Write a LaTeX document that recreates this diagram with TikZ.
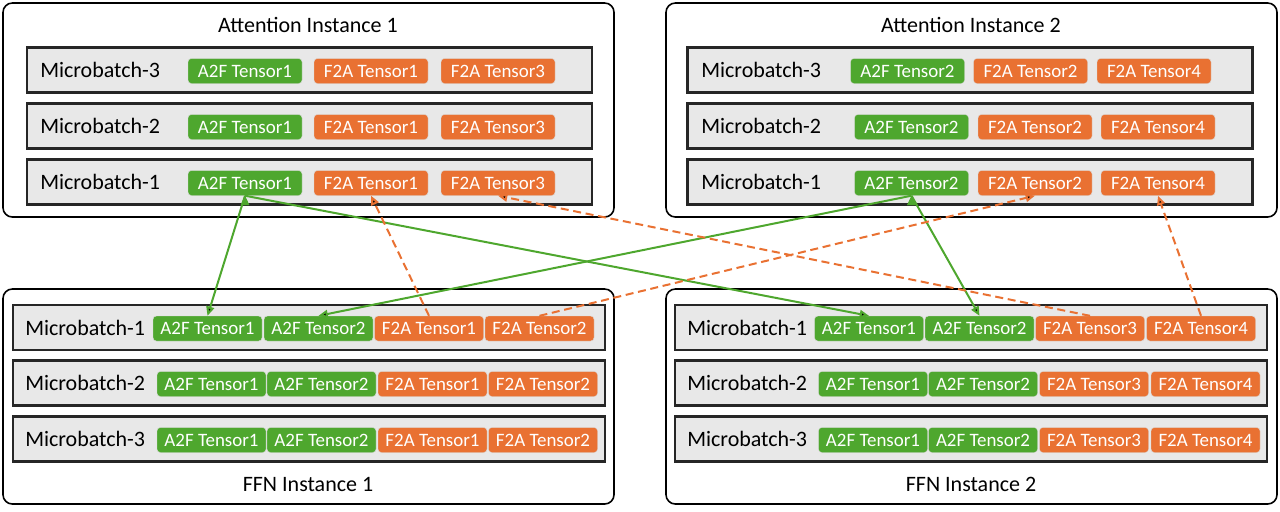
\documentclass[tikz,border=0pt]{standalone}
\usepackage{fontspec}
\setmainfont{Carlito}
\usepackage{tikz}
\usetikzlibrary{arrows.meta}
\definecolor{tgreen}{HTML}{4EA72E}
\definecolor{torange}{HTML}{E97132}
\definecolor{rowgray}{HTML}{E8E8E8}
\tikzset{
  instbox/.style={draw, line width=1.2pt, rounded corners=7pt, inner sep=0pt},
  attrow/.style={draw=black!85, line width=1.6pt, fill=rowgray, minimum width=423.75pt, minimum height=33.75pt, inner sep=0pt},
  ffnrow/.style={attrow, minimum width=444pt},
  tensor/.style={rounded corners=2.5pt, draw=white!85!black, line width=0.3pt, text=white, inner sep=0pt, minimum height=18.75pt, font=\fontsize{14.2}{16}\selectfont},
  a2f/.style={tensor, fill=tgreen},
  f2a/.style={tensor, fill=torange},
  mblabel/.style={anchor=west, inner sep=0pt, font=\fontsize{16.5}{19}\selectfont},
  title/.style={inner sep=0pt, font=\fontsize{16.5}{19}\selectfont}
}

\begin{document}
\begin{tikzpicture}[x=0.75pt, y=-0.75pt]
\useasboundingbox (0,0) rectangle (1280,511);

\begin{scope}[every node/.style={instbox, minimum width=458.25pt}]
  \node[minimum height=160.5pt] (att1) at (308.5,110) {};
  \node[minimum height=160.5pt] (att2) at (971.5,110) {};
  \node[minimum height=161.25pt] (ffn1) at (308.5,396.5) {};
  \node[minimum height=161.25pt] (ffn2) at (971.5,396.5) {};
\end{scope}

\node[title] (att1t) at (308,25) {Attention Instance 1};
\node[title] (att2t) at (971,25) {Attention Instance 2};
\node[title] (ffn1t) at (308,484) {FFN Instance 1};
\node[title] (ffn2t) at (971,484) {FFN Instance 2};

\node[attrow] (att1r3) at (309.5,70) {};
\node[attrow] (att1r2) at (309.5,126) {};
\node[attrow] (att1r1) at (309.5,182) {};
\node[attrow] (att2r3) at (970,70) {};
\node[attrow] (att2r2) at (970,126) {};
\node[attrow] (att2r1) at (970,182) {};
\node[ffnrow] (ffn1r1) at (309,327.5) {};
\node[ffnrow] (ffn1r2) at (309,383) {};
\node[ffnrow] (ffn1r3) at (309,439) {};
\node[ffnrow] (ffn2r1) at (971,327.5) {};
\node[ffnrow] (ffn2r2) at (971,383) {};
\node[ffnrow] (ffn2r3) at (971,439) {};

\node[mblabel] (att1l3) at (40,70) {Microbatch-3};
\node[mblabel] (att1l2) at (40,126) {Microbatch-2};
\node[mblabel] (att1l1) at (40,182) {Microbatch-1};
\node[mblabel] (att2l3) at (701,70) {Microbatch-3};
\node[mblabel] (att2l2) at (701,126) {Microbatch-2};
\node[mblabel] (att2l1) at (701,182) {Microbatch-1};
\node[mblabel] (ffn1l1) at (25,327.5) {Microbatch-1};
\node[mblabel] (ffn1l2) at (25,383) {Microbatch-2};
\node[mblabel] (ffn1l3) at (25,439) {Microbatch-3};
\node[mblabel] (ffn2l1) at (687,327.5) {Microbatch-1};
\node[mblabel] (ffn2l2) at (687,383) {Microbatch-2};
\node[mblabel] (ffn2l3) at (687,439) {Microbatch-3};

\begin{scope}[every node/.append style={minimum width=85.5pt}]
  \node[a2f] (att1r3a) at (245,71) {A2F Tensor1};
  \node[f2a] (att1r3b) at (371,71) {F2A Tensor1};
  \node[f2a] (att1r3c) at (498,71) {F2A Tensor3};
  \node[a2f] (att1r2a) at (245,127) {A2F Tensor1};
  \node[f2a] (att1r2b) at (371,127) {F2A Tensor1};
  \node[f2a] (att1r2c) at (498,127) {F2A Tensor3};
  \node[a2f] (att1r1a) at (245,183) {A2F Tensor1};
  \node[f2a] (att1r1b) at (371,183) {F2A Tensor1};
  \node[f2a] (att1r1c) at (498,183) {F2A Tensor3};
  \node[a2f] (att2r3a) at (907.5,71) {A2F Tensor2};
  \node[f2a] (att2r3b) at (1030.5,71) {F2A Tensor2};
  \node[f2a] (att2r3c) at (1154,71) {F2A Tensor4};
  \node[a2f] (att2r2a) at (911.5,127) {A2F Tensor2};
  \node[f2a] (att2r2b) at (1035,127) {F2A Tensor2};
  \node[f2a] (att2r2c) at (1158,127) {F2A Tensor4};
  \node[a2f] (att2r1a) at (911.5,183) {A2F Tensor2};
  \node[f2a] (att2r1b) at (1035,183) {F2A Tensor2};
  \node[f2a] (att2r1c) at (1158,183) {F2A Tensor4};
\end{scope}

\begin{scope}[every node/.append style={minimum width=81.75pt}]
  \node[a2f] (ffn1r1a) at (207.5,328.5) {A2F Tensor1};
  \node[a2f] (ffn1r1b) at (318.5,328.5) {A2F Tensor2};
  \node[f2a] (ffn1r1c) at (429,328.5) {F2A Tensor1};
  \node[f2a] (ffn1r1d) at (539.5,328.5) {F2A Tensor2};
  \node[a2f] (ffn1r2a) at (211.5,384) {A2F Tensor1};
  \node[a2f] (ffn1r2b) at (321.5,384) {A2F Tensor2};
  \node[f2a] (ffn1r2c) at (432.5,384) {F2A Tensor1};
  \node[f2a] (ffn1r2d) at (543,384) {F2A Tensor2};
  \node[a2f] (ffn1r3a) at (211.5,440) {A2F Tensor1};
  \node[a2f] (ffn1r3b) at (321.5,440) {A2F Tensor2};
  \node[f2a] (ffn1r3c) at (432.5,440) {F2A Tensor1};
  \node[f2a] (ffn1r3d) at (543,440) {F2A Tensor2};
  \node[a2f] (ffn2r1a) at (869,328.5) {A2F Tensor1};
  \node[a2f] (ffn2r1b) at (979.5,328.5) {A2F Tensor2};
  \node[f2a] (ffn2r1c) at (1090,328.5) {F2A Tensor3};
  \node[f2a] (ffn2r1d) at (1201,328.5) {F2A Tensor4};
  \node[a2f] (ffn2r2a) at (873,384) {A2F Tensor1};
  \node[a2f] (ffn2r2b) at (983,384) {A2F Tensor2};
  \node[f2a] (ffn2r2c) at (1094,384) {F2A Tensor3};
  \node[f2a] (ffn2r2d) at (1205.5,384) {F2A Tensor4};
  \node[a2f] (ffn2r3a) at (873,440) {A2F Tensor1};
  \node[a2f] (ffn2r3b) at (983,440) {A2F Tensor2};
  \node[f2a] (ffn2r3c) at (1094,440) {F2A Tensor3};
  \node[f2a] (ffn2r3d) at (1205.5,440) {F2A Tensor4};
\end{scope}

\begin{scope}[line width=1.5pt, -{Triangle[length=7pt, width=6pt]}]
\path[draw=tgreen] (att1r1a.south) edge (ffn1r1a.north);
\path[draw=tgreen] (att1r1a.south) edge (ffn2r1a.north);
\path[draw=tgreen] (att2r1a.south) edge (ffn1r1b.north);
\path[draw=tgreen] (att2r1a.south) edge (ffn2r1b.north);
\path[draw=torange, dash pattern=on 6pt off 3.5pt] (ffn1r1c.north) edge (att1r1b.south);
\path[draw=torange, dash pattern=on 6pt off 3.5pt] (ffn1r1d.north) edge (att2r1b.south);
\path[draw=torange, dash pattern=on 6pt off 3.5pt] (ffn2r1c.north) edge (att1r1c.south);
\path[draw=torange, dash pattern=on 6pt off 3.5pt] (ffn2r1d.north) edge (att2r1c.south);
\end{scope}

\end{tikzpicture}
\end{document}
